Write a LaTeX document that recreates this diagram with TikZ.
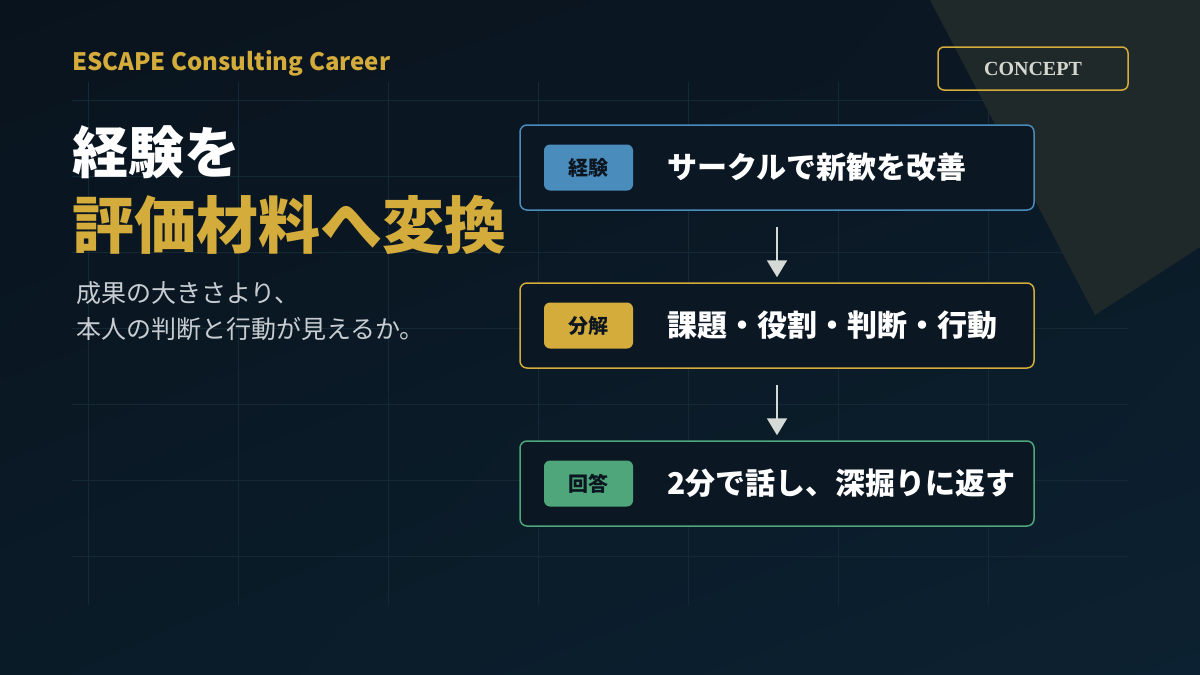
\documentclass[tikz,border=0pt]{standalone}
\usepackage{fontspec}
\setmainfont{Noto Sans CJK JP}
\newfontfamily\serifbold{Liberation Serif}
\usetikzlibrary{arrows.meta, shadings}
\definecolor{bgtl}{RGB}{9,19,29}
\definecolor{bgtr}{RGB}{11,24,36}
\definecolor{bgbl}{RGB}{10,27,40}
\definecolor{bgbr}{RGB}{12,33,49}
\definecolor{facet}{RGB}{31,41,41}
\definecolor{gridline}{RGB}{21,40,54}
\definecolor{gold}{RGB}{212,172,60}
\definecolor{blueacc}{RGB}{74,140,188}
\definecolor{greenacc}{RGB}{78,166,122}
\definecolor{cardfill}{RGB}{11,24,35}
\definecolor{tagtext}{RGB}{12,22,32}
\definecolor{arrowgray}{RGB}{214,218,214}
\definecolor{leadgray}{RGB}{200,205,210}
\definecolor{conceptgray}{RGB}{214,216,208}
\begin{document}
\begin{tikzpicture}[x=1pt, y=-1pt,
        card/.style={draw, line width=1.5pt, rounded corners=7pt, fill=cardfill,
                     minimum width=514pt, minimum height=85pt},
        tag/.style={rounded corners=6pt, minimum width=89pt, minimum height=46pt,
                    inner sep=0pt, text=tagtext, font=\fontsize{20}{20}\selectfont\bfseries},
        cardtext/.style={anchor=west, inner sep=0pt, text=white,
                         font=\fontsize{30}{30}\selectfont\bfseries},
        flow/.style={-{Triangle[width=20pt,length=17pt]}, line width=2pt, draw=arrowgray,
                     shorten <=16pt, shorten >=5pt}]
      \useasboundingbox (0,0) rectangle (1200,675);
      \shade[upper left=bgtl, upper right=bgtr, lower left=bgbl, lower right=bgbr]
            (0,0) rectangle (1200,675);
      \foreach \gx in {88,238,...,988}
        \draw[gridline, line width=1pt] (\gx,82) -- (\gx,605);
      \foreach \gy in {100,176,...,556}
        \draw[gridline, line width=1pt] (72,\gy) -- (1128,\gy);
      \fill[facet] (930,0) -- (1095,315) -- (1200,247) -- (1200,0) -- cycle;
      \node[anchor=base west, inner sep=0pt, text=gold,
            font=\fontsize{24}{24}\selectfont\bfseries] (brand) at (72,70) {ESCAPE Consulting Career};
      \node[draw=gold, line width=1.5pt, rounded corners=6pt, minimum width=190pt,
            minimum height=43pt, text=conceptgray,
            font=\serifbold\fontsize{20}{20}\selectfont\bfseries] (concept) at (1033,68.5) {CONCEPT};
      \node[anchor=west, inner sep=0pt, text=white,
            font=\fontsize{56}{56}\selectfont\bfseries] (head1) at (72,152.5) {経験を};
      \node[anchor=west, inner sep=0pt, text=gold,
            font=\fontsize{62}{62}\selectfont\bfseries] (head2) at (72,225) {評価材料へ変換};
      \node[anchor=west, inner sep=0pt, text=leadgray, align=left,
            font=\fontsize{25}{36}\selectfont] (lead) at (76,311) {成果の大きさより、\\本人の判断と行動が見えるか。};
      \node[card, draw=blueacc]  (exp)      at (777,167.5) {};
      \node[tag, fill=blueacc]   (exptag)   at (588.5,167.5) {経験};
      \node[cardtext]            (exptext)  at (667,167.5) {サークルで新歓を改善};
      \node[card, draw=gold]     (split)    at (777,325.5) {};
      \node[tag, fill=gold]      (splittag) at (588.5,325.5) {分解};
      \node[cardtext]            (splittext)at (667,325.5) {課題・役割・判断・行動};
      \node[card, draw=greenacc] (answer)   at (777,483.5) {};
      \node[tag, fill=greenacc]  (answertag)at (588.5,483.5) {回答};
      \node[cardtext]            (answertext)at (667,483.5) {2分で話し、深掘りに返す};
      \draw[flow] (exp)   -- (split);
      \draw[flow] (split) -- (answer);
    \end{tikzpicture}
\end{document}
